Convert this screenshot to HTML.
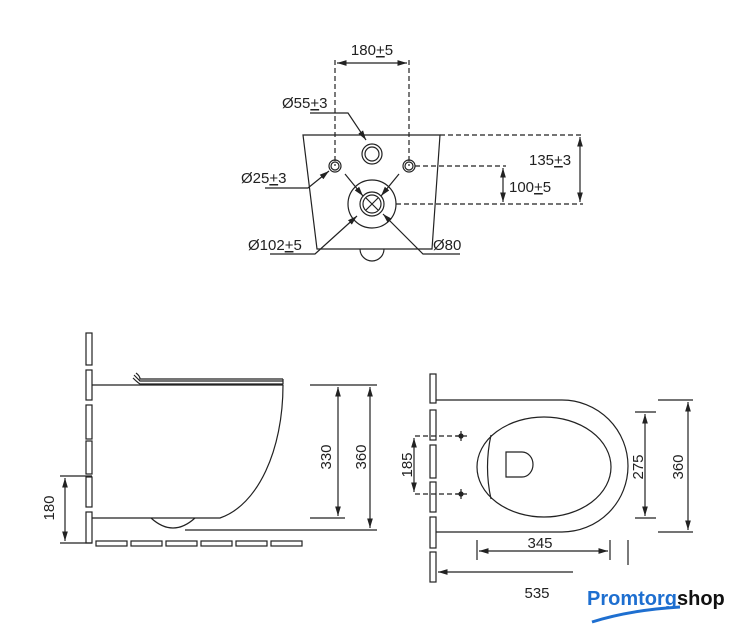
<!DOCTYPE html>
<html><head><style>body{margin:0;background:#fff}svg{display:block}text{font-family:"Liberation Sans",sans-serif;fill:#222}</style></head>
<body>
<svg width="740" height="640" viewBox="0 0 740 640" xmlns="http://www.w3.org/2000/svg">
<defs>
<marker id="a" viewBox="0 0 10 10" refX="10" refY="5" markerWidth="8" markerHeight="8" orient="auto-start-reverse"><path d="M0,2 L10,5 L0,8z" fill="#222"/></marker>
</defs>
<g stroke="#222" stroke-width="1.2" fill="none">
<path d="M303,135 H440 L432,249 H317 Z"/>
<path d="M360,249 A12,12 0 0 0 384,249"/>
<g stroke-dasharray="5,3">
<path d="M335,60 V166 M409,60 V166"/>
<path d="M440,135 H583 M415,166 H506 M396,204 H583"/>
</g>
<path d="M337,63 H407" marker-start="url(#a)" marker-end="url(#a)"/>
<circle cx="372" cy="154" r="10"/><circle cx="372" cy="154" r="7"/>
<circle cx="335" cy="166" r="6"/><circle cx="335" cy="166" r="4"/>
<circle cx="409" cy="166" r="6"/><circle cx="409" cy="166" r="4"/>
<circle cx="372" cy="204" r="24"/><circle cx="372" cy="204" r="12"/><circle cx="372" cy="204" r="9"/>
<path d="M366,198 L378,210 M378,198 L366,210"/>
<path d="M580,137 V202" marker-start="url(#a)" marker-end="url(#a)"/>
<path d="M503,168 V202" marker-start="url(#a)" marker-end="url(#a)"/>
<path d="M310,113 H348 L366,140" marker-end="url(#a)"/>
<path d="M265,188 H308 L329,171" marker-end="url(#a)"/>
<path d="M270,254 H315 L357,216" marker-end="url(#a)"/>
<path d="M460,254 H423 L383,214" marker-end="url(#a)"/>
<path d="M345,174 L363,196" marker-end="url(#a)"/>
<path d="M399,174 L381,196" marker-end="url(#a)"/>
<rect x="86" y="333" width="6" height="32"/><rect x="86" y="370" width="6" height="30"/>
<rect x="86" y="405" width="6" height="34"/><rect x="86" y="441" width="6" height="33"/>
<rect x="86" y="477" width="6" height="30"/><rect x="86" y="512" width="6" height="31"/>
<rect x="96" y="541" width="31" height="5"/><rect x="131" y="541" width="31" height="5"/><rect x="166" y="541" width="31" height="5"/><rect x="201" y="541" width="31" height="5"/><rect x="236" y="541" width="31" height="5"/><rect x="271" y="541" width="31" height="5"/>
<path d="M92,385 H283 C283,450 258,505 220,518 H92"/>
<path d="M151,518 Q173,538 195,518"/>
<path d="M136,373 Q140,376 140,379 H283 M134,375 Q138,379 140,381 H283 M133,378 Q137,382 140,384 H283 M283,379 V384"/>
<path d="M310,385 H377 M310,518 H345 M185,530 H377"/>
<path d="M338,387 V516" marker-start="url(#a)" marker-end="url(#a)"/>
<path d="M370,387 V528" marker-start="url(#a)" marker-end="url(#a)"/>
<path d="M60,476 H92 M60,543 H92"/>
<path d="M65,478 V541" marker-start="url(#a)" marker-end="url(#a)"/>
<rect x="430" y="374" width="6" height="29"/><rect x="430" y="410" width="6" height="30"/>
<rect x="430" y="445" width="6" height="33"/><rect x="430" y="482" width="6" height="30"/>
<rect x="430" y="517" width="6" height="31"/><rect x="430" y="552" width="6" height="30"/>
<path d="M436,400 H562 A66,66 0 0 1 562,532 H436"/>
<ellipse cx="544" cy="467" rx="67" ry="50"/>
<path d="M491,435 Q484,467 491,499"/>
<path d="M506,452 H522 A11,12.5 0 0 1 522,477 H506 Z"/>
<path d="M415,436 H460 M415,494 H460" stroke-dasharray="5,3"/>
<path d="M456,436 H467 M461,431 V441 M456,494 H467 M461,489 V499"/>
<circle cx="461" cy="436" r="2" fill="#222"/><circle cx="461" cy="494" r="2" fill="#222"/>
<path d="M414,438 V492" marker-start="url(#a)" marker-end="url(#a)"/>
<path d="M635,412 H656 M635,518 H656"/>
<path d="M645,414 V516" marker-start="url(#a)" marker-end="url(#a)"/>
<path d="M658,400 H693 M658,532 H693"/>
<path d="M688,402 V530" marker-start="url(#a)" marker-end="url(#a)"/>
<path d="M477,540 V560 M610,540 V560 M628,540 V565"/>
<path d="M479,551 H608" marker-start="url(#a)" marker-end="url(#a)"/>
<path d="M438,572 H573" marker-start="url(#a)"/>
</g>
<g font-size="15">
<text x="372" y="55" text-anchor="middle">180<tspan text-decoration="underline">+</tspan>5</text>
<text x="282" y="108">Ø55<tspan text-decoration="underline">+</tspan>3</text>
<text x="241" y="183">Ø25<tspan text-decoration="underline">+</tspan>3</text>
<text x="248" y="250">Ø102<tspan text-decoration="underline">+</tspan>5</text>
<text x="433" y="250">Ø80</text>
<text x="529" y="165">135<tspan text-decoration="underline">+</tspan>3</text>
<text x="509" y="192">100<tspan text-decoration="underline">+</tspan>5</text>
<text transform="translate(331,457) rotate(-90)" text-anchor="middle">330</text>
<text transform="translate(366,457) rotate(-90)" text-anchor="middle">360</text>
<text transform="translate(54,508) rotate(-90)" text-anchor="middle">180</text>
<text transform="translate(412,465) rotate(-90)" text-anchor="middle">185</text>
<text transform="translate(643,467) rotate(-90)" text-anchor="middle">275</text>
<text transform="translate(683,467) rotate(-90)" text-anchor="middle">360</text>
<text x="540" y="548" text-anchor="middle">345</text>
<text x="537" y="598" text-anchor="middle">535</text>
</g>
<text x="587" y="605" font-size="20" font-weight="bold"><tspan style="fill:#1e6fd0">Promtorg</tspan><tspan style="fill:#111">shop</tspan></text>
<path d="M592,622 Q630,610 680,607" stroke="#1e6fd0" stroke-width="3" fill="none"/>
</svg>
</body></html>
